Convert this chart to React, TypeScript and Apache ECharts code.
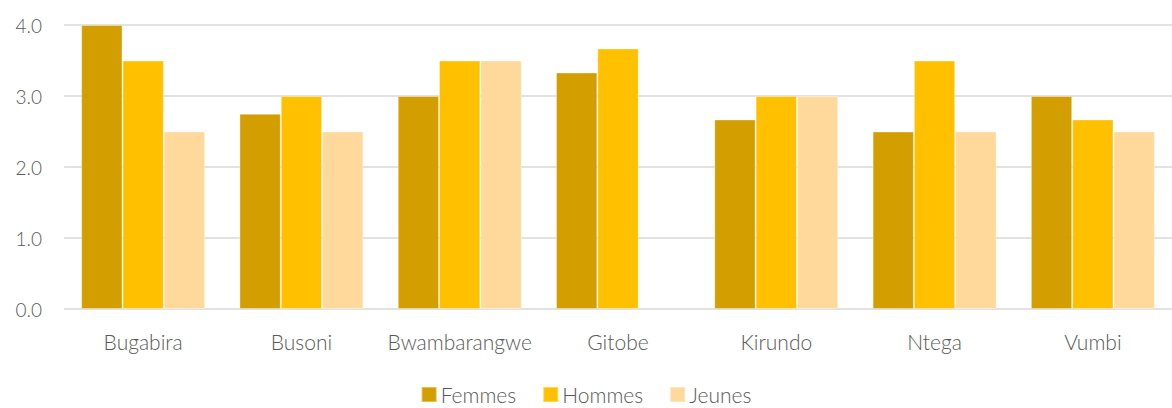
import React, { useEffect, useRef } from "react";
import * as echarts from "echarts";

const categories = ["Bugabira", "Busoni", "Bwambarangwe", "Gitobe", "Kirundo", "Ntega", "Vumbi"];
const femmes = [4.0, 2.75, 3.0, 3.33, 2.67, 2.5, 3.0];
const hommes = [3.5, 3.0, 3.5, 3.67, 3.0, 3.5, 2.67];
const jeunes: (number | null)[] = [2.5, 2.5, 3.5, null, 3.0, 2.5, 2.5];
const seriesNames = ["Femmes", "Hommes", "Jeunes"];
const colors = ["#D39E00", "#FFC000", "#FFD89B"];

export default function App() {
  const ref = useRef<HTMLDivElement>(null);
  useEffect(() => {
    if (!ref.current) return;
    const chart = echarts.init(ref.current, undefined, { renderer: "svg" });
    const font = "Lato, 'Open Sans', sans-serif";
    const data = [femmes, hommes, jeunes];
    chart.setOption({
      animation: false,
      grid: { left: 64, right: 0, top: 25, bottom: 99 },
      legend: {
        top: 379,
        left: "center",
        itemWidth: 15,
        itemHeight: 15,
        itemGap: 26,
        icon: "rect",
        textStyle: { color: "#595959", fontSize: 21, fontWeight: 300, fontFamily: font, padding: [0, 0, 0, -1] },
        data: seriesNames,
      },
      xAxis: {
        type: "category",
        data: categories,
        axisLine: { show: false },
        axisTick: { show: false },
        axisLabel: { color: "#595959", fontSize: 21, fontWeight: 300, fontFamily: font, margin: 22, interval: 0 },
      },
      yAxis: {
        type: "value",
        min: 0,
        max: 4,
        interval: 1,
        axisLabel: {
          color: "#595959",
          fontSize: 19,
          fontWeight: 300,
          fontFamily: font,
          margin: 22,
          formatter: (v: number) => v.toFixed(1),
        },
        splitLine: { lineStyle: { color: "#D9D9D9", width: 1.5 } },
      },
      series: seriesNames.map((name, i) => ({
        name,
        type: "bar",
        data: data[i],
        barGap: "0%",
        barCategoryGap: "21.7%",
        itemStyle: { color: colors[i], borderColor: "rgba(255,255,255,0.35)", borderWidth: 1 },
      })),
    });
    return () => chart.dispose();
  }, []);
  return <div ref={ref} style={{ width: 1172, height: 408, position: "absolute", left: 0, top: 0 }} />;
}
